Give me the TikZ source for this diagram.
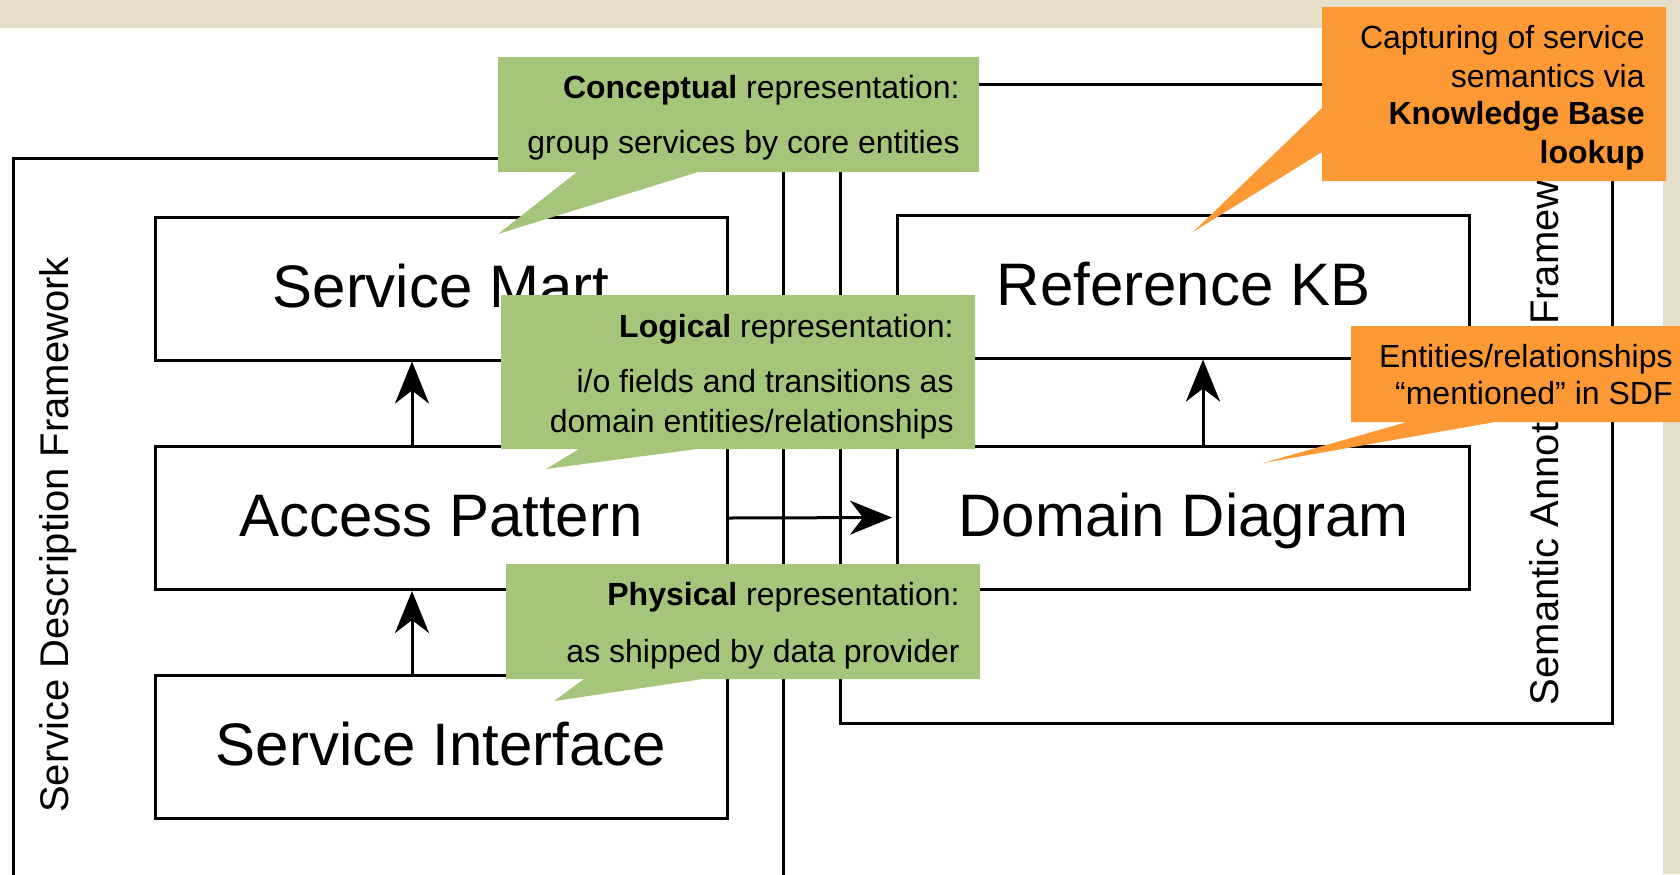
\documentclass[tikz,border=0pt]{standalone}
\usepackage{fontspec}
\setmainfont{Liberation Sans}
\usetikzlibrary{arrows.meta,calc}
\definecolor{beige}{RGB}{229,223,202}
\definecolor{cgreen}{RGB}{165,197,122}
\definecolor{corange}{RGB}{253,153,52}
\begin{document}
\begin{tikzpicture}[x=0.5pt,y=-0.5pt,
  frame/.style={line width=1.5pt},
  box/.style={draw, line width=1.5pt, minimum width=286pt, minimum height=71.5pt, inner sep=0pt, font=\fontsize{30}{36}\selectfont, text height=18.5pt, text depth=0pt},
  arr/.style={line width=1.5pt, -{Stealth[length=21pt,width=17pt,inset=6.5pt]}},
  side/.style={rotate=90, anchor=base, font=\fontsize{20}{24}\selectfont, inner sep=0pt},
  ctext/.style={anchor=base east, inner sep=0pt, font=\fontsize{16}{19}\selectfont},
]
\useasboundingbox (0,0) rectangle (1680,874);
% background bands
\fill[beige] (0,0) rectangle (1680,28);
\fill[beige] (1663,0) rectangle (1680,874);
% frames
\draw[frame] (13,880) -- (13,158) -- (783,158) -- (783,880);
\draw[frame] (840,84) rectangle (1612,723);
\node[side] (sdf) at (68,535) {Service Description Framework};
\node[side] (saf) at (1558,415) {Semantic Annotation Framework};
% boxes
\node[box] (SM) at (441,288.5) {Service Mart};
\node[box] (AP) at (441,518) {Access Pattern};
\node[box] (SI) at (441,747) {Service Interface};
\node[box] (RKB) at (1183.5,286.5) {Reference KB};
\node[box] (DD) at (1183.5,517.5) {Domain Diagram};
% arrows
\coordinate (ax) at (412,0);
\coordinate (bx) at (1203,0);
\draw[arr] (AP.north -| ax) -- (SM.south -| ax);
\draw[arr] (SI.north -| ax) -- (AP.south -| ax);
\draw[arr] (DD.north -| bx) -- (RKB.south -| bx);
\draw[arr, shorten >=2pt] (AP.east) -- (DD.west);
% green callouts
\fill[cgreen] (498,57) -- (979,57) -- (979,172) -- (698,172) -- (498,234) -- (577,172) -- (498,172) -- cycle;
\fill[cgreen] (501,295) -- (975,295) -- (975,449) -- (697,449) -- (546,469) -- (579,449) -- (501,449) -- cycle;
\fill[cgreen] (506,564) -- (980,564) -- (980,679) -- (703,679) -- (554,701) -- (584,679) -- (506,679) -- cycle;
% orange callouts
\fill[corange] (1322,7) -- (1666,7) -- (1666,181) -- (1322,181) -- (1322,152) -- (1193,232) -- (1322,108) -- cycle;
\fill[corange] (1351,326) -- (1680,326) -- (1680,422) -- (1495,422) -- (1263,463) -- (1407,422) -- (1351,422) -- cycle;
% callout texts
\node[ctext] (c1a) at (960,98) {\textbf{Conceptual} representation:};
\node[ctext] (c1b) at (960,153) {group services by core entities};
\node[ctext] (c2a) at (954,337) {\textbf{Logical} representation:};
\node[ctext] (c2b) at (954,392) {i/o fields and transitions as};
\node[ctext] (c2c) at (954,432) {domain entities/relationships};
\node[ctext] (c3a) at (960,605) {\textbf{Physical} representation:};
\node[ctext] (c3b) at (960,662) {as shipped by data provider};
\node[ctext] (o1a) at (1645,48) {Capturing of service};
\node[ctext] (o1b) at (1645,87) {semantics via};
\node[ctext] (o1c) at (1645,124) {\textbf{Knowledge Base}};
\node[ctext] (o1d) at (1645,163) {\textbf{lookup}};
\node[ctext] (o2a) at (1673,367) {Entities/relationships};
\node[ctext] (o2b) at (1673,404) {“mentioned” in SDF};
\end{tikzpicture}
\end{document}
